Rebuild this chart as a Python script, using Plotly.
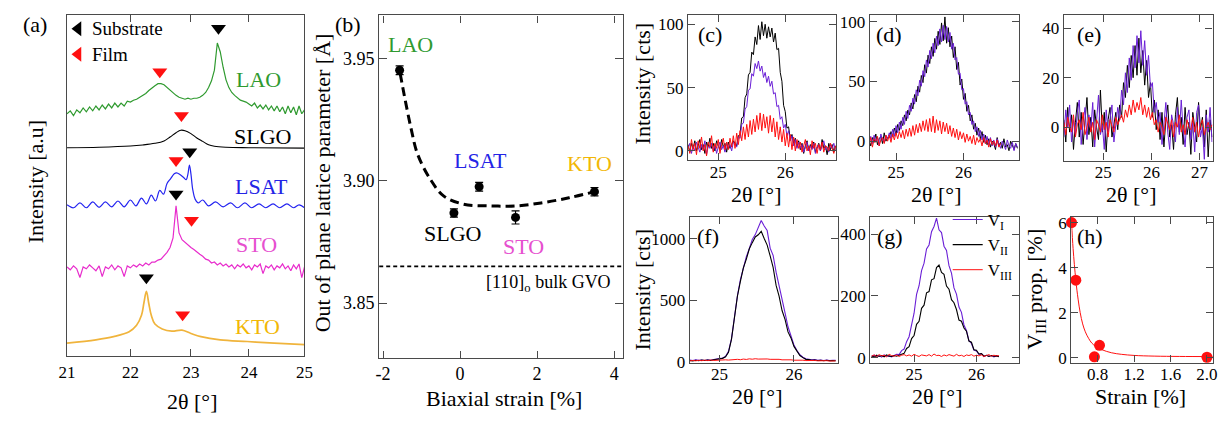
import numpy as np
import plotly.graph_objects as go

W, H = 1228, 421
FONT = "Liberation Serif, Times New Roman, Times, serif"
AXC = "#4a4a4a"

# ---------------- (a) XRD scans (stacked, a.u.) ----------------
A_GRID = [round(21.0 + 0.05 * i, 2) for i in range(81)]
LAO_I = [0, 3, -2, 4, 1, 6, 2, 7, 3, 8, 4, 9, 5, 10, 6, 11, 7, 11, 8, 13,
         12, 14, 15, 17, 19, 21, 24, 27, 29, 31, 31, 30, 27, 24, 21, 19, 17, 16, 15, 16,
         15, 16, 16, 17, 19, 22, 27, 34, 45, 73, 64, 48, 35, 27, 22, 19, 16, 14, 13, 12,
         10, 8, 11, 6, 9, 5, 9, 4, 8, 3, 8, 2, 7, 0, 8, 1, 7, -1, 8, 0, 4]
STO_I = [4, 1, 5, 2, -7, 4, 2, 6, 3, 0, 5, -6, 4, 2, 6, 1, 5, 3, -6, 5,
         3, 6, 4, 7, 5, 8, 6, 9, 9, 11, 12, 15, 19, 24, 34, 67, 39, 32, 29, 27,
         24, 22, 19, 17, 15, 12, 11, 8, 9, 6, 8, 5, 7, 4, 6, 2, 6, 4, 7, 3,
         5, 1, 6, 4, 7, -3, 5, 3, 6, 1, 5, 3, 7, 2, 5, 0, 6, 2, 7, -7, 4]
SLGO_2T = [21.0, 21.5, 22.0, 22.2, 22.4, 22.55, 22.65, 22.75, 22.83, 22.9, 23.0, 23.1, 23.2, 23.3, 23.4, 23.6, 24.0, 25.0]
SLGO_I = [0, 0.5, 1.7, 2.8, 4.5, 7, 11, 15.5, 18, 17.5, 14.5, 10, 6.5, 3, 1.5, 0.5, 0, -0.5]
LSAT_2T = [21.0, 21.1, 21.2, 21.3, 21.4, 21.5, 21.6, 21.7, 21.8, 21.9,
           22.0, 22.09, 22.18, 22.26, 22.34, 22.41, 22.48, 22.54, 22.6, 22.66,
           22.72, 22.76, 22.82, 22.88, 22.92, 22.95, 22.975, 23.0, 23.03, 23.07,
           23.12, 23.2, 23.3, 23.42, 23.55, 23.68, 23.8, 23.93, 24.05, 24.18,
           24.3, 24.43, 24.55, 24.68, 24.8, 24.9, 25.0]
LSAT_I = [3, 0, 5, 0, 6, 0.5, 6, 1, 7, 1, 8, 2, 10, 4, 13, 7, 18, 14, 25, 30,
          35, 36, 34, 31, 29, 35, 44, 35, 19, 9, 5, 8, 2, 6, 1, 5, 0, 5, 0, 4,
          0, 4, 0, 4, 0, 3, 0]
KTO_2T = [21.0, 21.45, 21.73, 21.98, 22.1, 22.18, 22.22, 22.26, 22.3, 22.34,
          22.4, 22.52, 22.68, 22.85, 23.0, 23.17, 23.5, 23.97, 24.45, 25.0]
KTO_I = [3.3, 6.7, 10, 15, 21.7, 32, 45, 56.7, 44, 32, 23, 18, 15.7, 16.7, 13.3, 10, 6.7, 5, 3.3, 1.7]
OFFSETS = {"LAO": 250, "SLGO": 215, "LSAT": 153, "STO": 88, "KTO": 10}
COLORS_A = {"LAO": "#2f9a2f", "SLGO": "#000000", "LSAT": "#2424f0", "STO": "#e82ccc", "KTO": "#f0b43c"}
LABEL_COL = {"LAO": "#2f9a2f", "SLGO": "#000000", "LSAT": "#2424e6", "STO": "#e650cf", "KTO": "#f2b705"}
SUB_PEAK_2T = [23.47, 22.98, 22.75, 22.26]
SUB_PEAK_Y = [338.3, 210.7, 167.3, 80.7]
FILM_PEAK_2T = [22.48, 22.84, 22.75, 23.01, 22.86]
FILM_PEAK_Y = [293.3, 248.3, 201.7, 140, 42.7]
KEY_2T = 21.17           # legend glyphs of panel (a)
KEY_Y = [337.7, 311.5]

# ---------------- (b) lattice parameter vs strain ----------------
SUBSTRATES = ["LAO", "SLGO", "LSAT", "STO", "KTO"]
STRAIN_B = [-1.57, -0.16, 0.495, 1.44, 3.49]
LATTICE_B = [3.9451, 3.8868, 3.8975, 3.8850, 3.8955]
ERR_B = [0.0018, 0.0017, 0.0018, 0.0027, 0.0017]
FIT_B_X = [-1.556, -1.446, -1.274, -1.103, -0.762, -0.421, 0.092, 0.777, 1.462, 2.144, 2.828, 3.469]
FIT_B_Y = [3.9438, 3.9346, 3.9214, 3.9108, 3.9003, 3.8937, 3.8904, 3.8897, 3.8897, 3.8910, 3.8930, 3.8954]
GVO_BULK = 3.865
LABEL_POS_B = {"LAO": (-1.295, 3.9557), "SLGO": (-0.185, 3.8785), "LSAT": (0.541, 3.9084),
               "STO": (1.641, 3.8732), "KTO": (3.362, 3.9071)}
B_MINOR = [round(3.83 + 0.01 * i, 2) for i in range(14)]
B_RANGE = [3.8277, 3.9675]

# ---------------- (c)-(g) scans ----------------
C_GRID = [round(24.55 + 0.025 * i, 3) for i in range(89)]
C_BLACK = [5, -1, 6, 2, 8, 0, 4, 9, 1, 5, -2, 7, 3, 10, 2, 6, 0, 8, 4, 1, 9, 3, 6, -1, 7, 2, 5, 8,
           6, 4, 12, 13, 26, 27, 42, 45, 60, 62, 78, 76, 90, 84, 99, 88, 102, 91, 100, 89, 98, 90,
           97, 86, 93, 80, 81, 62, 55, 36, 31, 18, 19, 9, 13, 6, 10, 3, 8,
           1, 6, -2, 4, 8, 0, 5, 2, 7, -1, 3, 6, 0, 9, 2, 4, -3, 6, 1, 5, -1, 4]
C_PURPLE = [2, 6, -2, 4, 0, 7, 3, -1, 5, 1, 8, -3, 4, 2, 6, 0, 5, -2, 3, 7, 1, 4, -1, 6, 2, 5, 0, 7,
            5, 3, 11, 10, 21, 22, 33, 35, 48, 49, 61, 59, 69, 65, 71, 63, 67, 58, 62, 54,
            59, 51, 55, 45, 46, 35, 36, 25, 27, 18, 21, 12, 16, 8, 12, 4, 9, 2, 7,
            2, 5, -1, 3, 7, 0, 4, 1, 6, -2, 3, 5, 0, 4, 8, 1, 3, -1, 5, 2, 6, 0]
C_RED = [4, -2, 9, 1, 6, -3, 8, 2, 11, 0, 5, -4, 7, 3, 12, -1, 6, 2, 9, -2, 5, 10, 1, 7,
         1, 10, 3, 12, 2, 14, 5, 16, 8, 19, 9, 21, 11, 24, 13, 25, 15, 28, 17, 30,
         16, 29, 18, 27, 14, 28, 15, 26, 11, 23, 9, 19, 7, 17, 4, 14, 3, 13, 1, 11, 0, 9, 2,
         7, -1, 5, 9, 0, 4, -3, 8, 2, 6, -2, 5, 1, 7, -1, 4, 3, 0, 6, 2, -2, 4]

D_GRID = [round(24.60 + 0.025 * i, 3) for i in range(89)]
D_PURPLE = [-3, 4, -2, 5, 0, 3, -4, 6, 1, -1, 5, 2,
            7, 2, 10, 4, 13, 7, 16, 10, 20, 14, 25, 19, 30, 25, 36, 31, 43, 38, 51, 46,
            59, 54, 68, 62, 76, 69, 82, 74, 88, 80, 94, 83, 97, 85, 96, 83, 91, 77, 82, 68,
            70, 56, 57, 43, 44, 31, 33, 22, 24, 14, 17, 8, 12, 4, 9, 1, 6, -2, 4,
            -3, 3, -4, 1, -5, 2, -2, -6, 0, -3, -7, 1, -4, -6, -1, -8, -2, -5]
D_BLACK = [1, -4, 3, -1, 6, -3, 2, 4, -2, 7, 0, 3,
           3, 8, 4, 11, 6, 14, 9, 17, 13, 22, 17, 26, 22, 32, 27, 39, 33, 46, 41, 55,
           49, 64, 57, 72, 65, 79, 71, 86, 77, 92, 81, 99, 84, 104, 82, 95, 79, 88, 70, 79,
           60, 66, 47, 52, 35, 40, 25, 30, 17, 22, 10, 15, 5, 11, 2, 8, -1, 5, -3,
           2, -5, 0, -2, -7, 3, -4, -1, -6, 2, -5, -3, -8, 0, -4, -7, -2, -6]
D_RED = [-3, 3, -5, 2, -1, 4, -4, 1, 3, -2, 5, 0,
         5, -1, 6, 1, 7, 2, 8, 3, 9, 2, 10, 4,
         11, 4, 13, 5, 14, 7, 15, 8, 17, 9, 18, 8,
         19, 8, 21, 7, 18, 9, 17, 6, 16, 8, 15, 6,
         13, 4, 11, 3, 10, 1, 8, 2, 7, -1, 6, 0,
         4, -2, 5, -3, 3, -1, 2, -4, 3, -2, 1, -5, 2, -3, 0, -4, 1, -5, -2]

E_GRID = [round(24.18 + 0.04 * i, 2) for i in range(78)]
E_BLACK = [3, -6, 8, -2, 5, -9, 2, 10, -4, 6, -7, 1, 12, -3, 4, -8, 7, 0, -5, 15, -2, 6, -10, 3, 8, -4, 2,
           6, -1, 9, 4, 18, 12, 25, 16, 29, 20, 33, 21, 36, 22, 31, 17, 27, 12, 18, 4, 11, -1, 7,
           -5, 6, -8, 3, 9, -4, 1, -9, 5, 12, -2, 4, -7, 8, -3, 2, -11, 6, 0, -6, 10, -1, 4, -8, 7, -12, 3, -4]
E_PURPLE = [-4, 7, 0, 9, -6, 3, -3, 6, 11, -7, 2, 8, -5, 5, -1, 10, -8, 4, 13, -3, 1, -9, 7, -2, 4, 9, -6,
            0, 8, 3, 15, 9, 22, 14, 28, 19, 33, 24, 37, 26, 39, 25, 35, 21, 29, 16, 18, 6, 10, 2,
            6, -7, 3, 10, -2, -9, 5, 1, -6, 8, -3, 11, -1, -8, 4, 7, -5, 2, -10, 6, 9, -4, 0, -13, 5, -2, 8, -6]
E_RED = [2, -3, 4, 0, -2, 5, -4, 1, 3, -1, 6, -3, 0, 4, -2, 2, -5, 3, 1, -2, 5, -1, 2, -4, 3, 0, -2, 4, 1, 3,
         5, 2, 7, 4, 9, 5, 11, 6, 10, 7, 12, 5, 9, 4, 8, 3, 6, 1,
         3, -2, 2, 0, -3, 4, 1, -1, 3, -4, 2, 0, 5, -2, 1, -3, 3, 0, -1, 4, -2, 2, -4, 1, 3, -3, 0, 2, -1, 1]

F_GRID = [round(24.60 + 0.04 * i, 2) for i in range(50)]
F_BLACK = [12, 8, 14, 10, 15, 11, 16, 12, 17, 19, 23, 29, 42, 78, 183, 355, 534, 655, 765, 836,
           920, 970, 1016, 1034, 1062, 1004, 950, 862, 768, 622, 535, 418, 346, 244, 195, 126, 89, 52, 35, 21,
           20, 14, 16, 11, 14, 10, 13, 9, 12, 10]
F_PURPLE = [15, 11, 17, 13, 16, 12, 18, 14, 19, 21, 25, 31, 44, 86, 188, 366, 538, 670, 762, 855,
            922, 995, 1035, 1098, 1150, 1105, 1068, 925, 866, 730, 612, 486, 398, 286, 208, 138, 92, 58, 38, 25,
            22, 17, 19, 14, 16, 12, 15, 11, 14, 13]
F_RED = [8, 12, 9, 13, 10, 14, 11, 15, 12, 14, 16, 13, 17, 15, 19, 17, 21, 18, 23, 20,
         25, 22, 26, 23, 25, 22, 24, 21, 23, 19, 21, 17, 19, 15, 17, 14, 16, 12, 14, 11,
         13, 10, 12, 9, 11, 8, 10, 7, 9, 8]

G_GRID = [round(24.32 + 0.04 * i, 2) for i in range(52)]
G_PURPLE = [3, 8, 4, 7, 2, 9, 5, 6, 3, 8, 11, 10, 23, 28, 52, 68, 106, 144, 205, 233,
            282, 306, 352, 365, 408, 425, 452, 414, 405, 361, 347, 298, 274, 226, 206, 164, 147, 106, 88, 55,
            46, 25, 22, 11, 13, 4, 8, 5, 7, 3, 6, 4]
G_BLACK = [6, 2, 8, 4, 7, 3, 9, 5, 4, 7, 5, 8, 12, 14, 30, 36, 62, 72, 108, 118,
           160, 170, 210, 214, 252, 256, 292, 300, 276, 270, 232, 222, 188, 178, 156, 122, 118, 96, 86, 54,
           50, 26, 24, 12, 13, 5, 8, 4, 7, 5, 6, 3]
G_RED = [5, 9, 4, 10, 6, 8, 3, 11, 7, 5, 9, 4, 8, 10, 6, 9, 5, 11, 7, 4,
         9, 8, 6, 10, 5, 12, 7, 8, 4, 9, 6, 10, 7, 5, 11, 6, 8, 4, 9, 7,
         10, 5, 8, 6, 9, 4, 7, 10, 5, 8, 6, 7]

# ---------------- (h) V_III proportion ----------------
H_STRAIN = [0.513, 0.56, 0.764, 0.82, 2.0]
H_V3 = [6.0, 3.44, 0.04, 0.55, 0.02]
H_FIT_X = [0.513, 0.53, 0.56, 0.585, 0.608, 0.635, 0.664, 0.70, 0.735, 0.78, 0.843, 0.95, 1.06, 1.2, 1.42, 1.7, 2.06]
H_FIT_Y = [6.0, 4.85, 3.44, 2.6, 2.0, 1.5, 1.15, 0.86, 0.65, 0.5, 0.36, 0.22, 0.15, 0.1, 0.07, 0.055, 0.05]

PURPLE = "#6a1fd6"
RED = "#ff1010"

# ---------------- layout geometry (pixels) ----------------
PANELS = [
    ([51.7, 292.3], [3, 355]),      # a
    ([368, 615], [3.5, 356.7]),     # b
    ([681, 831], [3, 153]),         # c
    ([865, 1016], [3, 153]),        # d
    ([1061.7, 1212.3], [3, 153.3]), # e
    ([682.7, 832.7], [211.7, 361.7]),  # f
    ([865.7, 1016.7], [211.7, 361.7]), # g
    ([1069.2, 1212.7], [211.7, 361.7]) # h
]

fig = go.Figure()


def ax(k):
    return ("x" if k == 1 else f"x{k}"), ("y" if k == 1 else f"y{k}")


def base():
    return dict(showline=True, linecolor=AXC, linewidth=1.3, mirror="ticks", ticks="inside",
                ticklen=7, tickwidth=1.2, tickcolor=AXC, showgrid=False, zeroline=False,
                tickfont=dict(family=FONT, size=17, color="black"))


lay = {}
for k, (xd, yd) in enumerate(PANELS, start=1):
    xn, yn = ax(k)
    xa = base()
    xa.update(domain=[xd[0] / W, xd[1] / W], anchor=yn)
    if k >= 3:
        xa.update(ticklabelstandoff=-4)
    ya = base()
    ya.update(domain=[1 - yd[1] / H, 1 - yd[0] / H], anchor=xn)
    lay["xaxis" if k == 1 else f"xaxis{k}"] = xa
    lay["yaxis" if k == 1 else f"yaxis{k}"] = ya

lay["xaxis"].update(type="log", range=[float(np.log10(21)), float(np.log10(25))],
                    tickmode="array", tickvals=[21, 22, 23, 24, 25], ticktext=["21", "22", "23", "24", "25"])
lay["yaxis"].update(range=[0, 352], showticklabels=False, ticks="")
lay["xaxis2"].update(range=[-2.1, 4.23], tickmode="array", tickvals=[-2, 0, 2, 4], ticktext=["-2", "0", "2", "4"],
                     tickfont=dict(family=FONT, size=18, color="black"))
lay["yaxis2"].update(range=B_RANGE, tickmode="array", tickvals=[3.85, 3.90, 3.95],
                     ticktext=["3.85", "3.90", "3.95"], ticklen=8,
                     tickfont=dict(family=FONT, size=18, color="black"))
# minor ticks of (b) on an overlaid, label-less axis
lay["yaxis9"] = dict(domain=lay["yaxis2"]["domain"], anchor="x2", overlaying="y2", side="left",
                     range=B_RANGE, tickmode="array", tickvals=B_MINOR, ticks="inside", ticklen=4,
                     tickwidth=1.2, tickcolor=AXC, mirror="ticks", showline=False, showticklabels=False,
                     showgrid=False, zeroline=False)
lay["xaxis3"].update(range=[24.55, 26.76], tickmode="array", tickvals=[25, 26])
lay["yaxis3"].update(range=[-7.4, 107.4], tickmode="array", tickvals=[0, 50, 100])
lay["xaxis4"].update(range=[24.61, 26.82], tickmode="array", tickvals=[25, 26])
lay["yaxis4"].update(range=[-16, 105.7], tickmode="array", tickvals=[0, 50, 100])
lay["xaxis5"].update(range=[24.18, 27.27], tickmode="array", tickvals=[25, 26, 27])
lay["yaxis5"].update(range=[-13.5, 45.4], tickmode="array", tickvals=[0, 20, 40])
lay["xaxis6"].update(range=[24.6, 26.59], tickmode="array", tickvals=[25, 26])
lay["yaxis6"].update(range=[-5, 1177], tickmode="array", tickvals=[0, 500, 1000])
lay["xaxis7"].update(range=[24.3, 26.69], tickmode="array", tickvals=[25, 26])
lay["yaxis7"].update(range=[-15.6, 455], tickmode="array", tickvals=[0, 200, 400])
lay["xaxis8"].update(range=[0.51, 2.065], tickmode="array", tickvals=[0.8, 1.2, 1.6, 2.0],
                     ticktext=["0.8", "1.2", "1.6", "2.0"])
lay["yaxis8"].update(range=[-0.215, 6.24], tickmode="array", tickvals=[0, 2, 4, 6])


def line(k, x, y, color, width=1.0, shape="linear", name=None, legend=False, dash=None):
    xn, yn = ax(k)
    fig.add_trace(go.Scatter(x=list(x), y=list(y), mode="lines", xaxis=xn, yaxis=yn, name=name,
                             showlegend=legend,
                             line=dict(color=color, width=width, shape=shape, dash=dash)))


def stack(vals, key):
    return [v + OFFSETS[key] for v in vals]


# (a)
line(1, A_GRID, stack(LAO_I, "LAO"), COLORS_A["LAO"], 1.2)
line(1, SLGO_2T, stack(SLGO_I, "SLGO"), COLORS_A["SLGO"], 1.1, "spline")
line(1, LSAT_2T, stack(LSAT_I, "LSAT"), COLORS_A["LSAT"], 1.2, "spline")
line(1, A_GRID, stack(STO_I, "STO"), COLORS_A["STO"], 1.2)
line(1, KTO_2T, stack(KTO_I, "KTO"), COLORS_A["KTO"], 1.7, "spline")
fig.add_trace(go.Scatter(x=SUB_PEAK_2T, y=SUB_PEAK_Y, mode="markers", xaxis="x", yaxis="y", showlegend=False,
                         marker=dict(symbol="triangle-down", size=13, color="black")))
fig.add_trace(go.Scatter(x=FILM_PEAK_2T, y=FILM_PEAK_Y, mode="markers", xaxis="x", yaxis="y", showlegend=False,
                         marker=dict(symbol="triangle-down", size=13, color=RED)))
fig.add_trace(go.Scatter(x=[KEY_2T, KEY_2T], y=KEY_Y, mode="markers", xaxis="x", yaxis="y", showlegend=False,
                         marker=dict(symbol="triangle-left", size=13, color=["black", RED])))

# (b)
line(2, FIT_B_X, FIT_B_Y, "black", 3, "spline", dash="9px,5px")
fig.add_trace(go.Scatter(x=STRAIN_B, y=LATTICE_B, mode="markers", xaxis="x2", yaxis="y2", showlegend=False,
                         marker=dict(size=9, color="black"),
                         error_y=dict(type="data", array=ERR_B, color="black", thickness=1.2, width=4)))

# (c)
line(3, C_GRID, C_BLACK, "black", 1)
line(3, C_GRID, C_PURPLE, PURPLE, 1)
line(3, C_GRID, C_RED, RED, 1)
# (d)
line(4, D_GRID, D_BLACK, "black", 1)
line(4, D_GRID, D_PURPLE, PURPLE, 1)
line(4, D_GRID[:len(D_RED)], D_RED, RED, 1)
# (e)
line(5, E_GRID, E_BLACK, "black", 1)
line(5, E_GRID, E_PURPLE, PURPLE, 1)
line(5, E_GRID, E_RED, RED, 1)
# (f)
line(6, F_GRID, F_PURPLE, PURPLE, 1.1)
line(6, F_GRID, F_BLACK, "black", 1.1)
line(6, F_GRID, F_RED, RED, 1)
# (g) with legend
line(7, G_GRID, G_PURPLE, PURPLE, 1.1, name="V<sub>I</sub>", legend=True)
line(7, G_GRID, G_BLACK, "black", 1.1, name="V<sub>II</sub>", legend=True)
line(7, G_GRID, G_RED, RED, 1, name="V<sub>III</sub>", legend=True)
# (h)
fig.add_trace(go.Scatter(x=H_FIT_X, y=H_FIT_Y, mode="lines", xaxis="x8", yaxis="y8", showlegend=False,
                         line=dict(color=RED, width=1, shape="spline"), cliponaxis=False))
fig.add_trace(go.Scatter(x=H_STRAIN, y=H_V3, mode="markers", xaxis="x8", yaxis="y8", showlegend=False,
                         marker=dict(size=11, color=RED), cliponaxis=False))


def ann(text, px, py, size=22, color="black", angle=0, xanchor="center", yanchor="middle"):
    return dict(text=text, x=px / W, y=1 - py / H, xref="paper", yref="paper", showarrow=False,
                font=dict(family=FONT, size=size, color=color), textangle=angle,
                xanchor=xanchor, yanchor=yanchor)


annotations = [
    ann("(a)", 19, 13.3), ann("(b)", 336.7, 13.3), ann("(c)", 703, 23.3),
    ann("(d)", 885, 23.3), ann("(e)", 1087.5, 23.3), ann("(f)", 700.8, 231.7),
    ann("(g)", 885.8, 231.7), ann("(h)", 1088.3, 231.7),
    ann("Intensity [a.u]", 20, 175, angle=-90), ann("2θ [°]", 179, 401.7),
    ann("Out of plane lattice parameter [Å]", 310, 175.8, angle=-90),
    ann("Biaxial strain [%]", 494, 398.3),
    ann("Intensity [cts]", 635, 74, angle=-90), ann("2θ [°]", 750, 188),
    ann("2θ [°]", 933, 188), ann("2θ [°]", 1130, 188),
    ann("Intensity [cts]", 635, 286.7, angle=-90), ann("2θ [°]", 751.7, 396.5),
    ann("2θ [°]", 934, 396.5),
    ann("V<sub>III</sub> prop. [%]", 1033.3, 285.8, angle=-90), ann("Strain [%]", 1139, 396.5),
    ann("Substrate", 75, 17.3, 19, xanchor="left"), ann("Film", 75, 43.5, 19, xanchor="left"),
    ann("LAO", 245.8, 70, 22, LABEL_COL["LAO"]), ann("SLGO", 250, 128.3, 22, LABEL_COL["SLGO"]),
    ann("LSAT", 248.3, 180, 22, LABEL_COL["LSAT"]), ann("STO", 243.8, 240, 22, LABEL_COL["STO"]),
    ann("KTO", 245, 325, 22, LABEL_COL["KTO"]),
]
for s in SUBSTRATES:
    lx, ly = LABEL_POS_B[s]
    annotations.append(dict(text=s, x=lx, y=ly, xref="x2", yref="y2", showarrow=False,
                            font=dict(family=FONT, size=22, color=LABEL_COL[s])))
annotations.append(dict(text="[110]<sub>o</sub> bulk GVO", x=3.98, y=3.858, xref="x2", yref="y2",
                        showarrow=False, xanchor="right", font=dict(family=FONT, size=18, color="black")))

shapes = [dict(type="line", xref="x2 domain", yref="y2", x0=0, x1=1, y0=GVO_BULK, y1=GVO_BULK,
               line=dict(color="black", width=1.6, dash="4px,3px"))]

fig.update_layout(width=W, height=H, margin=dict(l=0, r=0, t=0, b=0), paper_bgcolor="white",
                  plot_bgcolor="white", annotations=annotations, shapes=shapes,
                  legend=dict(x=944 / W, y=1 - 196 / H, xanchor="left", yanchor="top",
                              bgcolor="rgba(0,0,0,0)", font=dict(family=FONT, size=17, color="black"),
                              itemwidth=30, tracegroupgap=0),
                  font=dict(family=FONT))
fig.update_layout(lay)

fig.write_html("out.html")
